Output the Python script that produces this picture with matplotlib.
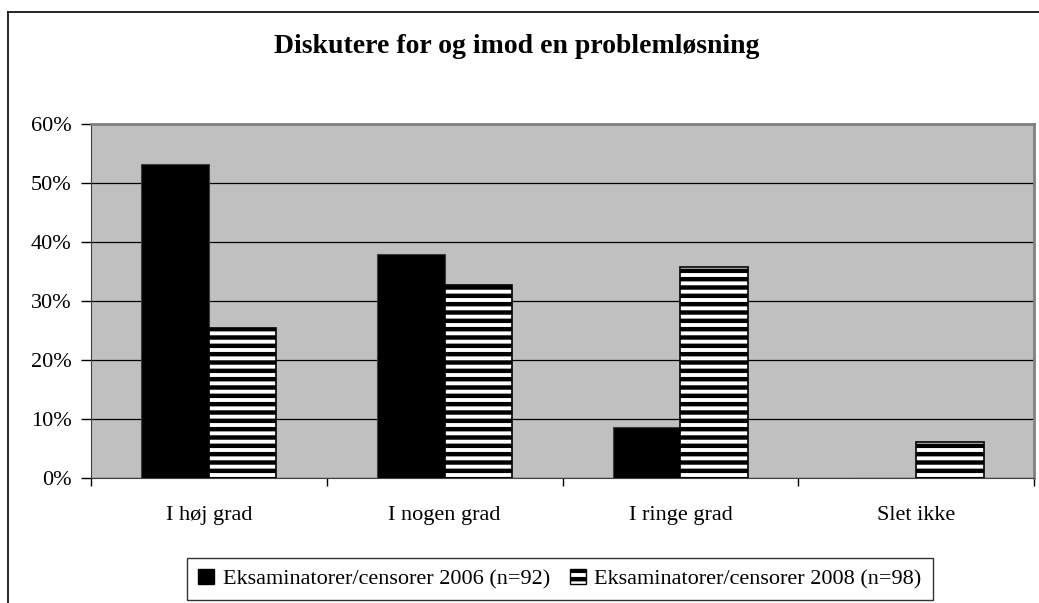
import matplotlib
matplotlib.use('Agg')
import matplotlib.pyplot as plt
from matplotlib.patches import Patch
from matplotlib.lines import Line2D
from matplotlib.ticker import FixedLocator, FuncFormatter
import numpy as np

categories = ['I høj grad', 'I nogen grad', 'I ringe grad', 'Slet ikke']
share_2006 = [53.3, 38.0, 8.7, 0.0]
share_2008 = [25.5, 32.7, 35.7, 6.1]
label_2006 = 'Eksaminatorer/censorer 2006 (n=92)'
label_2008 = 'Eksaminatorer/censorer 2008 (n=98)'
title = 'Diskutere for og imod en problemløsning'

plt.rcParams['font.family'] = ['Liberation Serif', 'DejaVu Serif']
plt.rcParams['hatch.linewidth'] = 3.2

fig = plt.figure(figsize=(10.39, 6.03), dpi=100)
ax = fig.add_axes([0.0876, 0.2073, 0.9076, 0.5871])
ax.set_facecolor('#c0c0c0')

x = np.arange(len(categories))
w = 0.286
ax.bar(x - w / 2, share_2006, w, color='black', edgecolor='#404040', linewidth=0.8, zorder=3)
ax.bar(x + w / 2, share_2008, w, color='white', edgecolor='black', hatch='--', linewidth=1.2, zorder=3)

ax.set_xlim(-0.5, len(categories) - 0.5)
ax.set_ylim(0, 60)
ax.set_yticks(range(0, 61, 10))
ax.yaxis.set_major_formatter(FuncFormatter(lambda v, p: f'{int(v)}%'))
ax.yaxis.grid(True, color='black', linewidth=0.9)
ax.set_axisbelow(True)

ax.set_xticks(x)
ax.set_xticklabels(categories)
ax.xaxis.set_minor_locator(FixedLocator(np.arange(-0.5, len(categories), 1.0)))
ax.tick_params(axis='x', which='major', length=0, pad=20, labelsize=16)
ax.tick_params(axis='x', which='minor', length=6, width=1, color='black')
ax.tick_params(axis='y', length=7, width=1, pad=7, labelsize=16)

for side in ('top', 'right'):
    ax.spines[side].set_color('#808080')
    ax.spines[side].set_linewidth(2)
ax.spines['left'].set_color('#404040')
ax.spines['bottom'].set_color('#404040')

fig.text(0.497, 0.923, title, ha='center', va='center', fontsize=20, fontweight='bold')

handles = [Patch(facecolor='black', edgecolor='black', label=label_2006),
           Patch(facecolor='white', edgecolor='black', hatch='--', label=label_2008)]
leg = fig.legend(handles=handles, loc='center', bbox_to_anchor=(0.539, 0.0398), ncol=2,
                 frameon=True, fancybox=False, fontsize=16, handlelength=0.7, handleheight=0.7,
                 handletextpad=0.4, columnspacing=0.9, borderpad=0.5)
leg.get_frame().set_edgecolor('black')
leg.get_frame().set_linewidth(1)

# outer chart border, cut off on the right and bottom
fig.add_artist(Line2D([8 / 1039, 8 / 1039], [0, 1 - 12 / 603], color='black', linewidth=1.2,
                      transform=fig.transFigure))
fig.add_artist(Line2D([8 / 1039, 1], [1 - 12 / 603, 1 - 12 / 603], color='black', linewidth=1.2,
                      transform=fig.transFigure))

fig.savefig('out.png', dpi=100)
